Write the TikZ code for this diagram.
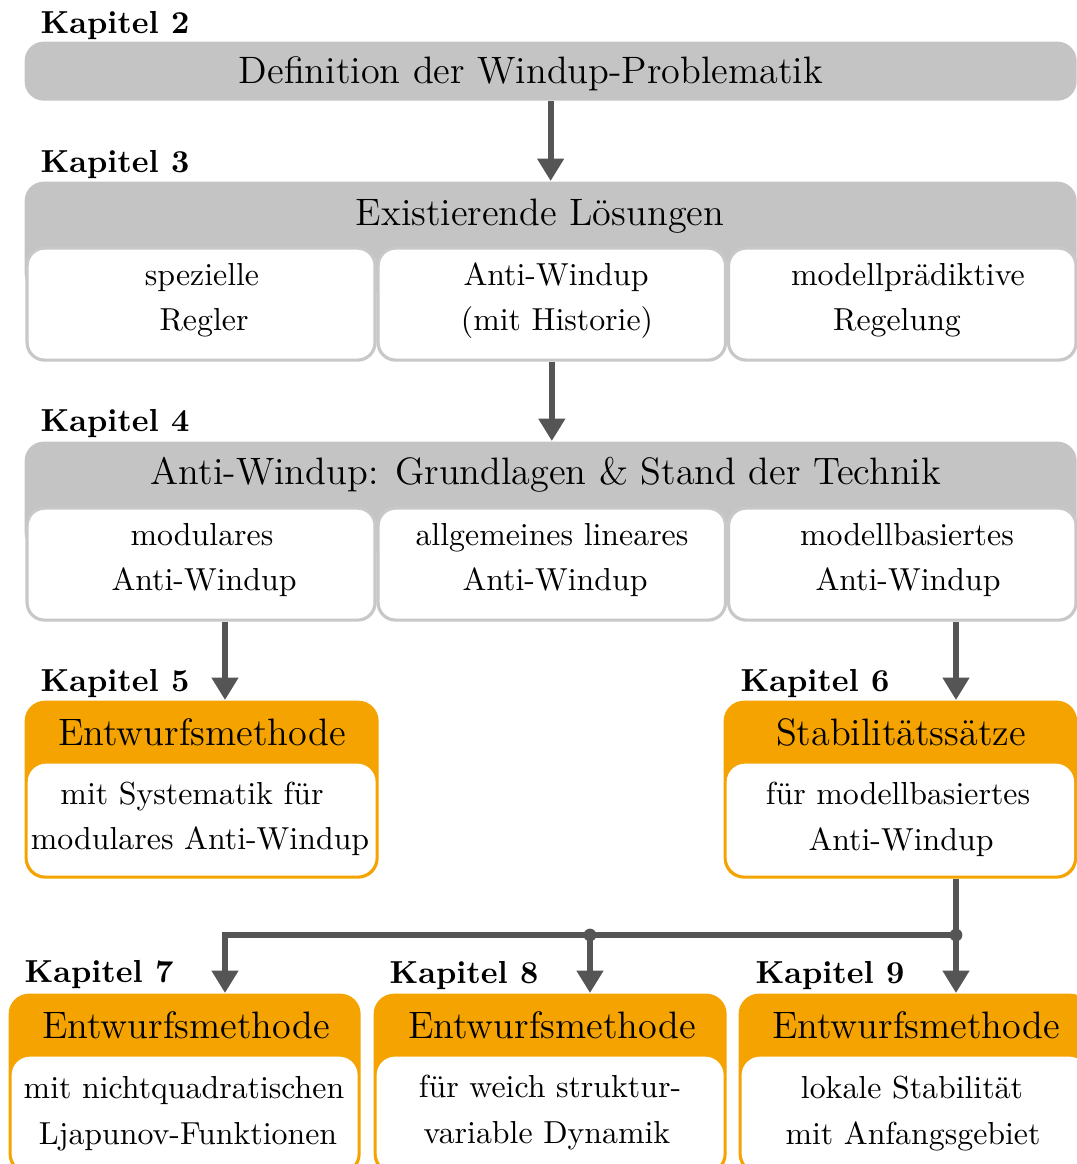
\documentclass[tikz,border=0pt]{standalone}
\usepackage{fontspec}
\usetikzlibrary{arrows.meta}

\definecolor{headgray}{RGB}{196,196,196}
\definecolor{framegray}{RGB}{200,200,200}
\definecolor{chaporange}{RGB}{244,163,0}
\definecolor{linkgray}{RGB}{85,85,85}

% one drawing unit
\newdimen\pxu
\pxu=0.314pt

\begin{document}
\begin{tikzpicture}[x=0.314pt, y=-0.314pt,
  chaplabel/.style={font=\bfseries, anchor=base west, inner sep=0pt},
  headbox/.style={fill=headgray, rounded corners=6pt, inner sep=0pt, anchor=north west},
  topicbox/.style={draw=framegray, line width=1pt, fill=white, rounded corners=5.5pt, inner sep=0pt, anchor=north west},
  resultbox/.style={fill=chaporange, rounded corners=6.4pt, inner sep=0pt, anchor=north west},
  resultbody/.style={fill=white, rounded corners=5.8pt, inner sep=0pt, anchor=north west},
  heading/.style={font=\large, anchor=base, inner sep=0pt},
  textline/.style={anchor=base, inner sep=0pt},
  link/.style={draw=linkgray, line width=1.9pt},
  arrowlink/.style={link, -{Triangle[width=8pt,length=7pt]}},
  dot/.style={fill=linkgray},
]
\useasboundingbox (0,0) rectangle (1077,1164);
\clip (0,0) rectangle (1077,1164);

% ---------- chapter 2 ----------
\node[chaplabel] (lab2) at (40,33) {Kapitel 2};
\node[headbox, minimum width=1052*\pxu, minimum height=59*\pxu] (def) at (24,41) {};
\node[heading] (def-t) at (531,83) {Definition der Windup-Problematik};

% ---------- chapter 3 ----------
\node[chaplabel] (lab3) at (40,172) {Kapitel 3};
\node[headbox, minimum width=1052*\pxu, minimum height=110*\pxu] (exist) at (24,181) {};
\node[heading] (exist-t) at (540,225) {Existierende Lösungen};
\node[topicbox, minimum width=348*\pxu, minimum height=112*\pxu] (exist-a) at (25.5,246.5) {};
\node[topicbox, minimum width=347.5*\pxu, minimum height=112*\pxu] (exist-b) at (376.5,246.5) {};
\node[topicbox, minimum width=347.5*\pxu, minimum height=112*\pxu] (exist-c) at (727,246.5) {};
\node[textline] (exist-a1) at (202,285) {spezielle};
\node[textline] (exist-a2) at (204,330) {Regler};
\node[textline] (exist-b1) at (556,285) {Anti-Windup};
\node[textline] (exist-b2) at (557,330) {(mit Historie)};
\node[textline] (exist-c1) at (908,285) {modellprädiktive};
\node[textline] (exist-c2) at (897,330) {Regelung};

% ---------- chapter 4 ----------
\node[chaplabel] (lab4) at (40,431) {Kapitel 4};
\node[headbox, minimum width=1052*\pxu, minimum height=110*\pxu] (basics) at (24,441) {};
\node[heading] (basics-t) at (546,484) {Anti-Windup: Grundlagen \& Stand der Technik};
\node[topicbox, minimum width=348*\pxu, minimum height=112*\pxu] (basics-a) at (25.5,506.5) {};
\node[topicbox, minimum width=347.5*\pxu, minimum height=112*\pxu] (basics-b) at (376.5,506.5) {};
\node[topicbox, minimum width=347.5*\pxu, minimum height=112*\pxu] (basics-c) at (727,506.5) {};
\node[textline] (basics-a1) at (202,545) {modulares};
\node[textline] (basics-a2) at (204,590) {Anti-Windup};
\node[textline] (basics-b1) at (552,545) {allgemeines lineares};
\node[textline] (basics-b2) at (555,590) {Anti-Windup};
\node[textline] (basics-c1) at (907,545) {modellbasiertes};
\node[textline] (basics-c2) at (908,590) {Anti-Windup};

% ---------- chapters 5 and 6 ----------
\node[chaplabel] (lab5) at (40,691) {Kapitel 5};
\node[resultbox, minimum width=354*\pxu, minimum height=178*\pxu] (design5) at (24,700) {};
\node[resultbody, minimum width=348*\pxu, minimum height=112*\pxu] (design5-b) at (27,763) {};
\node[heading] (design5-t) at (202,745) {Entwurfsmethode};
\node[textline] (design5-1) at (192,804) {mit Systematik für};
\node[textline] (design5-2) at (200,849) {modulares Anti-Windup};

\node[chaplabel] (lab6) at (740,691) {Kapitel 6};
\node[resultbox, minimum width=353.5*\pxu, minimum height=178*\pxu] (stab6) at (723,700) {};
\node[resultbody, minimum width=347.5*\pxu, minimum height=112*\pxu] (stab6-b) at (726,763) {};
\node[heading] (stab6-t) at (901,745) {Stabilitätssätze};
\node[textline] (stab6-1) at (898,804) {für modellbasiertes};
\node[textline] (stab6-2) at (901,850) {Anti-Windup};

% ---------- chapters 7, 8 and 9 ----------
\node[chaplabel] (lab7) at (24,982) {Kapitel 7};
\node[resultbox, minimum width=352*\pxu, minimum height=181*\pxu] (design7) at (8,993) {};
\node[resultbody, minimum width=346*\pxu, minimum height=115*\pxu] (design7-b) at (11,1056) {};
\node[heading] (design7-t) at (186,1038) {Entwurfsmethode};
\node[textline] (design7-1) at (184,1098) {mit nichtquadratischen};
\node[textline] (design7-2) at (188,1144) {Ljapunov-Funktionen};

\node[chaplabel] (lab8) at (389,983) {Kapitel 8};
\node[resultbox, minimum width=353*\pxu, minimum height=181*\pxu] (design8) at (373,993) {};
\node[resultbody, minimum width=347*\pxu, minimum height=115*\pxu] (design8-b) at (376,1056) {};
\node[heading] (design8-t) at (552,1038) {Entwurfsmethode};
\node[textline] (design8-1) at (550,1097) {für weich struktur-};
\node[textline] (design8-2) at (547,1143) {variable Dynamik};

\node[chaplabel] (lab9) at (755,983) {Kapitel 9};
\node[resultbox, minimum width=352*\pxu, minimum height=181*\pxu] (design9) at (738,993) {};
\node[resultbody, minimum width=346*\pxu, minimum height=115*\pxu] (design9-b) at (741,1056) {};
\node[heading] (design9-t) at (916,1038) {Entwurfsmethode};
\node[textline] (design9-1) at (912,1098) {lokale Stabilität};
\node[textline] (design9-2) at (913,1144) {mit Anfangsgebiet};

% ---------- connectors ----------
\coordinate (x5) at (225,0);
\coordinate (x6) at (956,0);
\coordinate (j7) at (225,935);
\coordinate (j8) at (590,935);
\coordinate (j9) at (956,935);

\draw[arrowlink] (def.south) -- (exist.north);
\draw[arrowlink] (exist-b.south) -- (exist-b.south |- basics.north);
\draw[arrowlink] (basics-a.south -| x5) -- (design5.north -| x5);
\draw[arrowlink] (basics-c.south -| x6) -- (stab6.north -| x6);
\draw[link] (stab6.south -| x6) -- (j9);
\draw[arrowlink] (j9) -- (j7) -- (design7.north -| j7);
\draw[arrowlink] (j8) -- (design8.north -| j8);
\draw[arrowlink] (j9) -- (design9.north -| j9);
\fill[dot] (j8) circle (2pt);
\fill[dot] (j9) circle (2pt);
\end{tikzpicture}
\end{document}
